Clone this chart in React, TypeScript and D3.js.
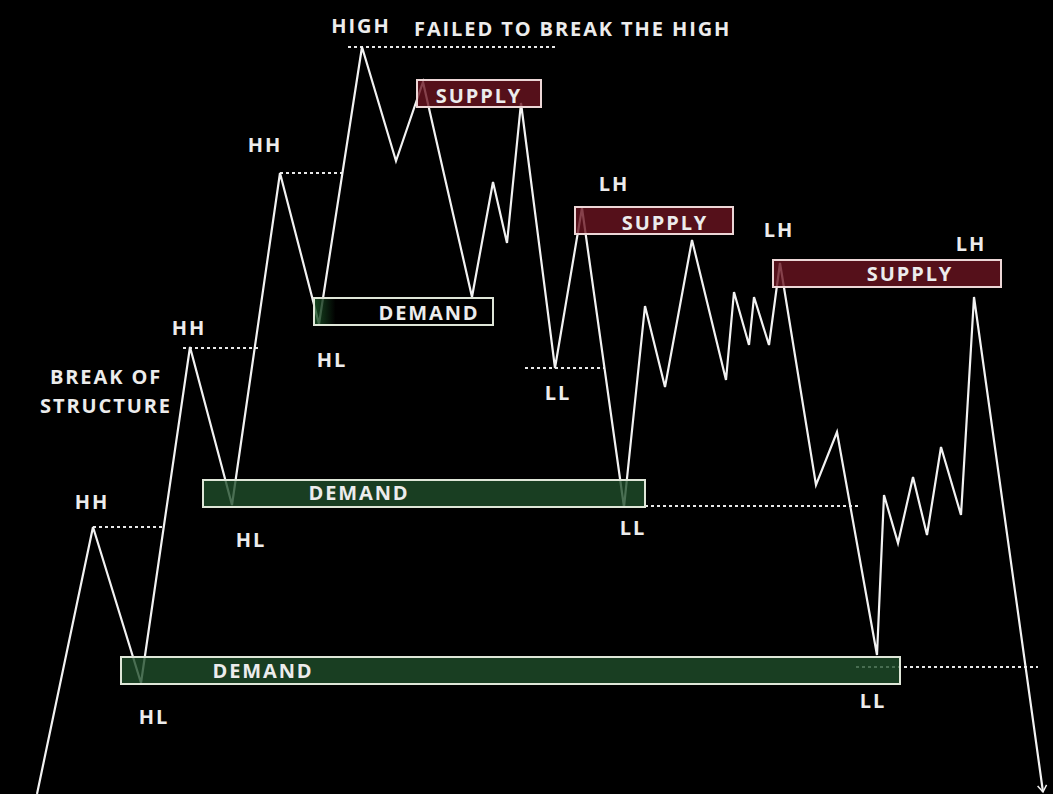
import * as d3 from "d3";
import React, { useEffect, useRef } from "react";

// price path: time (t) and price (p)
const pathT = [37, 93, 141, 190, 232, 280, 319, 362, 396, 423, 472, 493, 507, 521, 555, 582, 624, 645, 665, 692, 726, 734, 749, 754, 769, 780, 816, 837, 877, 884, 898, 913, 927, 941, 961, 974, 1043];
const pathP = [0, 267, 111, 447, 289, 621, 470, 747, 633, 712, 497, 612, 551, 691, 426, 586, 287, 488, 407, 554, 414, 502, 449, 497, 449, 531, 309, 362, 139, 299, 251, 317, 259, 347, 279, 497, 2];

// zones: [start, end, top, bottom]
const supplyZones = [
  [417, 541, 714, 687],
  [575, 733, 587, 560],
  [773, 1001, 534, 507],
];
const demandZones = [
  [314, 493, 496, 469],
  [203, 645, 314, 287],
  [121, 900, 137, 110],
];
const supplyLabels = [["SUPPLY", 479, 691], ["SUPPLY", 665, 564], ["SUPPLY", 910, 513]];
const demandLabels = [["DEMAND", 429, 474], ["DEMAND", 359, 294], ["DEMAND", 263, 116]];

// dotted levels: [start, end, price]
const levels = [
  [93, 165, 267],
  [183, 260, 446],
  [280, 343, 621],
  [348, 555, 747],
  [525, 604, 426],
  [645, 858, 288],
  [856, 1038, 127],
];

// swing labels: [text, t, price]
const swingLabels = [
  ["HH", 92, 285],
  ["HH", 189, 459],
  ["HH", 265, 642],
  ["HIGH", 361, 761],
  ["HL", 154, 70],
  ["HL", 251, 247],
  ["HL", 332, 427],
  ["LH", 614, 603],
  ["LH", 779, 557],
  ["LH", 971, 543],
  ["LL", 558, 394],
  ["LL", 633, 259],
  ["LL", 873, 86],
];
const notes = [
  ["BREAK OF", 106, 410, "middle"],
  ["STRUCTURE", 106, 381, "middle"],
  ["FAILED TO BREAK THE HIGH", 414, 758, "start"],
];

const W = 1053;
const H = 794;

export default function App() {
  const svgRef = useRef(null);

  useEffect(() => {
    const x = d3.scaleLinear().domain([0, W]).range([0, W]);
    const y = d3.scaleLinear().domain([0, H]).range([H, 0]);

    const svgEl = d3.select(svgRef.current);
    svgEl.selectAll("*").remove();
    const svg = svgEl.append("g");

    const defs = svgEl.append("defs");
    const g1 = defs.append("linearGradient").attr("id", "demDark");
    g1.append("stop").attr("offset", "0%").attr("stop-color", "#1d5a2a").attr("stop-opacity", 0.8);
    g1.append("stop").attr("offset", "12%").attr("stop-color", "#000").attr("stop-opacity", 0.85);
    g1.append("stop").attr("offset", "100%").attr("stop-color", "#000").attr("stop-opacity", 0.85);

    svg.append("rect").attr("width", W).attr("height", H).attr("fill", "#000");

    // dotted levels
    svg.selectAll(".lvl")
      .data(levels)
      .enter()
      .append("line")
      .attr("x1", (d) => x(d[0]))
      .attr("x2", (d) => x(d[1]))
      .attr("y1", (d) => y(d[2]))
      .attr("y2", (d) => y(d[2]))
      .attr("stroke", "#e8e8e8")
      .attr("stroke-width", 2)
      .attr("stroke-dasharray", "3,3");

    // price path
    const pts = pathT.map((t, i) => [t, pathP[i]]);
    const line = d3.line().x((d) => x(d[0])).y((d) => y(d[1]));
    svg.append("path")
      .attr("d", line(pts))
      .attr("fill", "none")
      .attr("stroke", "#f2f2f2")
      .attr("stroke-width", 2.2)
      .attr("stroke-linejoin", "miter");

    // arrow head at end
    const last = pts[pts.length - 1];
    const prev = pts[pts.length - 2];
    const ang = Math.atan2(y(last[1]) - y(prev[1]), x(last[0]) - x(prev[0]));
    const ax = x(last[0]), ay = y(last[1]);
    const aLen = 8;
    svg.append("path")
      .attr("d", `M${ax - aLen * Math.cos(ang - 0.6)},${ay - aLen * Math.sin(ang - 0.6)}L${ax},${ay}L${ax - aLen * Math.cos(ang + 0.6)},${ay - aLen * Math.sin(ang + 0.6)}`)
      .attr("fill", "none")
      .attr("stroke", "#f2f2f2")
      .attr("stroke-width", 1.5);

    // zones
    svg.selectAll(".sup")
      .data(supplyZones)
      .enter()
      .append("rect")
      .attr("x", (d) => x(d[0]))
      .attr("y", (d) => y(d[2]))
      .attr("width", (d) => x(d[1]) - x(d[0]))
      .attr("height", (d) => y(d[3]) - y(d[2]))
      .attr("fill", "#6a1420")
      .attr("fill-opacity", 0.8)
      .attr("stroke", "#ecd6d6")
      .attr("stroke-width", 2);

    svg.selectAll(".dem")
      .data(demandZones)
      .enter()
      .append("rect")
      .attr("x", (d) => x(d[0]))
      .attr("y", (d) => y(d[2]))
      .attr("width", (d) => x(d[1]) - x(d[0]))
      .attr("height", (d) => y(d[3]) - y(d[2]))
      .attr("fill", (d, i) => (i === 0 ? "url(#demDark)" : "#1f4d2a"))
      .attr("fill-opacity", (d, i) => (i === 0 ? 1 : 0.8))
      .attr("stroke", "#dfe6d8")
      .attr("stroke-width", 2);

    const font = "'Open Sans', 'DejaVu Sans', sans-serif";
    const addText = (sel, data, anchor) =>
      sel.selectAll(null)
        .data(data)
        .enter()
        .append("text")
        .attr("x", (d) => x(d[1]))
        .attr("y", (d) => y(d[2]))
        .attr("text-anchor", (d) => d[3] || anchor)
        .attr("fill", "#ececec")
        .attr("font-family", font)
        .attr("font-weight", 700)
        .attr("font-size", 20)
        .attr("letter-spacing", 1.9)
        .text((d) => d[0]);

    addText(svg, supplyLabels, "middle");
    addText(svg, demandLabels, "middle");
    addText(svg, swingLabels, "middle");
    addText(svg, notes, "start");
  });

  return (
    <svg
      ref={svgRef}
      width={W}
      height={H}
      viewBox={`0 0 ${W} ${H}`}
      style={{ position: "absolute", left: 0, top: 0, display: "block", background: "#000" }}
    />
  );
}
